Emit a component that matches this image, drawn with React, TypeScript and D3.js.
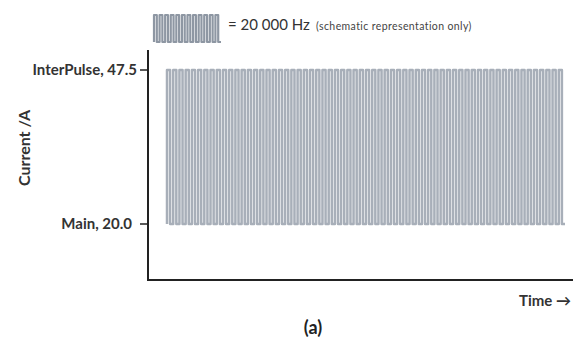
import * as d3 from "d3";

const W = 573;
const H = 343;

// levels of the pulse train, in A
const LEVEL_NAMES = ["InterPulse", "Main"];
const LEVEL_VALUES = [47.5, 20.0];
const PULSE_COUNT = 64;
const LEGEND_PULSES = 12;

const X0 = 148;
const X_END = 573;
const Y_TOP = 50;
const Y_AXIS = 280;

type Pt = { t: number; v: number };

function squareWave(n: number, hi: number, lo: number): Pt[] {
	const pts: Pt[] = [{ t: 0, v: lo }];
	for (let i = 0; i < n; i++) {
		pts.push({ t: i, v: hi });
		pts.push({ t: i + 0.5, v: lo });
	}
	pts.push({ t: n, v: lo });
	return pts;
}

export default function App() {
	const font = "Lato, 'Open Sans', sans-serif";
	const y = d3.scaleLinear().domain([20, 47.5]).range([224, 70]);
	const x = d3.scaleLinear().domain([0, PULSE_COUNT]).range([167, 565]);

	const wave = squareWave(PULSE_COUNT, LEVEL_VALUES[0], LEVEL_VALUES[1]);
	const line = d3
		.line<Pt>()
		.x((d) => x(d.t))
		.y((d) => y(d.v))
		.curve(d3.curveStepAfter);

	// legend icon
	const lx = d3.scaleLinear().domain([0, LEGEND_PULSES]).range([154, 221]);
	const ly = d3.scaleLinear().domain([20, 47.5]).range([42, 15]);
	const legendLine = d3
		.line<Pt>()
		.x((d) => lx(d.t))
		.y((d) => ly(d.v))
		.curve(d3.curveStepAfter);
	const legendWave = squareWave(LEGEND_PULSES, LEVEL_VALUES[0], LEVEL_VALUES[1]);

	return (
		<svg width={W} height={H} style={{ position: "absolute", left: 0, top: 0, background: "#fff" }}>
			{/* legend */}
			<path d={legendLine(legendWave) ?? ""} fill="none" stroke="#8e97a3" strokeWidth={2.2} strokeLinejoin="round" />
			<text x={228} y={30} fontFamily={font} fontSize={15} fill="#333">
				= 20 000 Hz
			</text>
			<text x={316} y={30} fontFamily={font} fontSize={10.5} letterSpacing={0.4} fill="#444">
				(schematic representation only)
			</text>

			{/* pulse train */}
			<path d={line(wave) ?? ""} fill="none" stroke="#a8afb9" strokeWidth={2.5} strokeLinejoin="round" />

			{/* axes */}
			<line x1={X0} x2={X0} y1={Y_TOP} y2={Y_AXIS + 1} stroke="#222" strokeWidth={2} />
			<line x1={X0 - 1} x2={X_END} y1={Y_AXIS} y2={Y_AXIS} stroke="#222" strokeWidth={2} />
			{LEVEL_VALUES.map((v, i) => (
				<g key={v}>
					<line x1={X0 - 8} x2={X0} y1={y(v)} y2={y(v)} stroke="#222" strokeWidth={1.5} />
					<text
						x={i === 0 ? 137 : 132}
						y={y(v)}
						dy="0.35em"
						textAnchor="end"
						fontFamily={font}
						fontWeight={700}
						fontSize={15}
						fill="#333"
					>
						{`${LEVEL_NAMES[i]}, ${v.toFixed(1)}`}
					</text>
				</g>
			))}

			<text
				transform={`translate(30,148) rotate(-90)`}
				textAnchor="middle"
				fontFamily={font}
				fontWeight={700}
				fontSize={16}
				fill="#333"
			>
				Current /A
			</text>
			<text x={571} y={306} textAnchor="end" fontFamily={font} fontWeight={700} fontSize={15} fill="#333">
				Time →
			</text>
			<text x={313} y={334} textAnchor="middle" fontFamily={font} fontWeight={700} fontSize={18} fill="#222">
				(a)
			</text>
		</svg>
	);
}
